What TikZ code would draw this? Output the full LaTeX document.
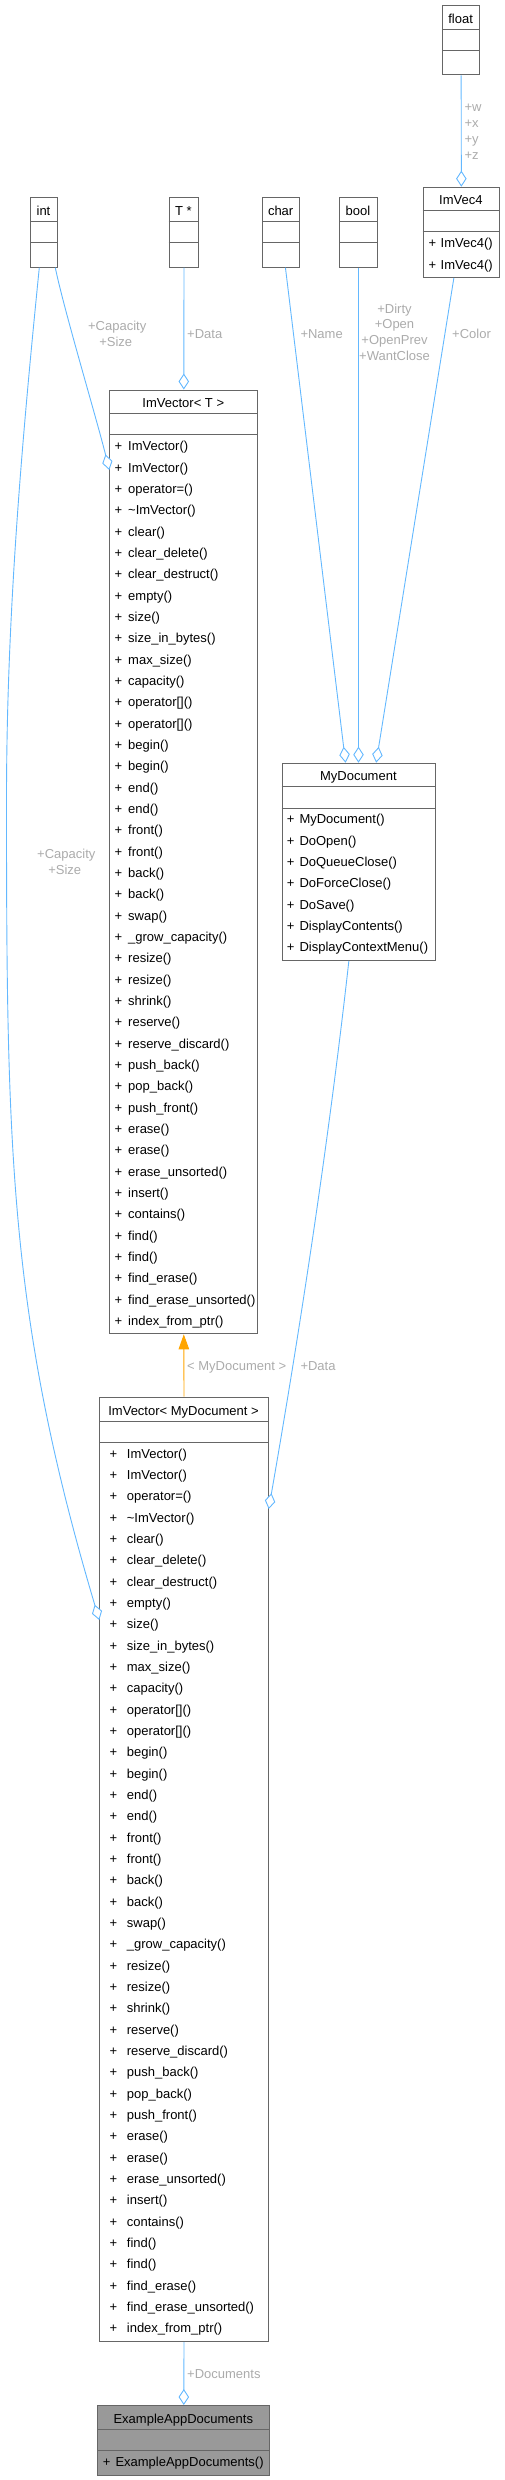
\documentclass[tikz,border=0pt]{standalone}
\usepackage{fontspec}
\setmainfont{Liberation Sans}
\usetikzlibrary{arrows.meta}
\definecolor{edgeblue}{HTML}{63B8FF}
\definecolor{inhorange}{HTML}{FFA500}
\definecolor{lblgrey}{HTML}{ABABAB}
\definecolor{boxgrey}{HTML}{666666}
\definecolor{fillgrey}{HTML}{999999}
\tikzset{
  classbox/.style={draw=boxgrey,line width=1pt,inner sep=0pt,fill=white},
  boxline/.style={draw=boxgrey,line width=1pt},
  txt/.style={inner sep=0pt,font=\fontsize{13}{15.7}\selectfont},
  lbl/.style={txt,text=lblgrey},
  agg/.style={draw=edgeblue,line width=0.9pt,-{Diamond[length=16pt,width=10.5pt,fill=white]}},
  inh/.style={draw=inhorange,line width=0.9pt,-{Triangle[length=15pt,width=10.5pt,fill=inhorange]}},
}
% #1 style, #2 name, #3 left, #4 right, #5 top, #6 line1, #7 line2, #8 bottom, #9 title
\newcommand{\umlclass}[9][]{%
  \node[classbox,#1,anchor=north west,minimum width={#4pt-#3pt},minimum height={#8pt-#5pt}] (#2) at (#3,#5) {};
  \draw[boxline] (#3,#6) -- (#4,#6);
  \draw[boxline] (#3,#7) -- (#4,#7);
  \node[txt,anchor=base] (#2-title) at ({(#3+#4)/2},{(#5+#6)/2+6}) {#9};
}
% #1 name, #2 plus x, #3 text x, #4 first row centre y, #5 list
\newcommand{\umlrows}[5]{%
  \foreach \rtext [count=\ri from 0] in {#5} {
    \pgfmathsetmacro{\ry}{#4+\ri*21.333+5}
    \node[txt,anchor=base west] (#1-p\ri) at (#2,\ry) {+};
    \node[txt,anchor=base west] (#1-r\ri) at (#3,\ry) {\rtext};
  }
}
\begin{document}
\begin{tikzpicture}[x=1pt,y=-1pt]
\useasboundingbox (0,0) rectangle (504,2480);

% classes
\umlclass{float}{442}{479.3}{5}{29.3}{50.7}{74.3}{float}
\umlclass{int}{30}{57}{197.3}{221.3}{242.5}{266.7}{int}
\umlclass{tptr}{168.7}{198.3}{197.3}{221.3}{242.5}{266.7}{T *}
\umlclass{char}{262}{299.3}{197.3}{221.3}{242.5}{266.7}{char}
\umlclass{bool}{339.3}{376.7}{197.3}{221.3}{242.5}{266.7}{bool}
\umlclass{imvec4}{422.7}{499}{186.7}{210.5}{231.7}{277}{ImVec4}
\umlrows{imvec4}{428.3}{440.5}{242.7}{ImVec4(),ImVec4()}

\umlclass{vt}{109.3}{257.3}{389.5}{413.3}{434.5}{1333.3}{ImVector< T >}
\umlrows{vt}{114.3}{128}{445.7}{ImVector(),ImVector(),operator=(),\textasciitilde{}ImVector(),clear(),clear\_delete(),clear\_destruct(),empty(),size(),size\_in\_bytes(),max\_size(),capacity(),operator[](),operator[](),begin(),begin(),end(),end(),front(),front(),back(),back(),swap(),\_grow\_capacity(),resize(),resize(),shrink(),reserve(),reserve\_discard(),push\_back(),pop\_back(),push\_front(),erase(),erase(),erase\_unsorted(),insert(),contains(),find(),find(),find\_erase(),find\_erase\_unsorted(),index\_from\_ptr()}

\umlclass{mydoc}{281.7}{435}{762.7}{786.7}{808}{960}{MyDocument}
\umlrows{mydoc}{286.6}{299.3}{818.7}{MyDocument(),DoOpen(),DoQueueClose(),DoForceClose(),DoSave(),DisplayContents(),DisplayContextMenu()}

\umlclass{vmd}{99.3}{267.7}{1396.7}{1421.7}{1442.7}{2341}{ImVector< MyDocument >}
\umlrows{vmd}{109.3}{126.7}{1453.3}{ImVector(),ImVector(),operator=(),\textasciitilde{}ImVector(),clear(),clear\_delete(),clear\_destruct(),empty(),size(),size\_in\_bytes(),max\_size(),capacity(),operator[](),operator[](),begin(),begin(),end(),end(),front(),front(),back(),back(),swap(),\_grow\_capacity(),resize(),resize(),shrink(),reserve(),reserve\_discard(),push\_back(),pop\_back(),push\_front(),erase(),erase(),erase\_unsorted(),insert(),contains(),find(),find(),find\_erase(),find\_erase\_unsorted(),index\_from\_ptr()}

\umlclass[fill=fillgrey]{ead}{97.3}{269.3}{2405}{2429}{2450.3}{2475}{ExampleAppDocuments}
\umlrows{ead}{102.6}{115.3}{2461.3}{ExampleAppDocuments()}

% connectors
\draw[agg] (float.south) -- (imvec4.north);
\draw[agg] (tptr.south) -- (vt.north);
\draw[agg] ([xshift=-2.7pt]int.south east) .. controls (64,310) and (97,420) .. (vt.west |- 0,470);
\draw[agg] ([xshift=9.3pt]int.south west) .. controls (21.3,446.7) and (6.5,620) .. (6.5,800)
  .. controls (6.5,1150) and (9.3,1318) .. (vmd.west |- 0,1620);
\draw[agg] ([xshift=4.3pt]char.south) -- ([xshift=-13.3pt]mydoc.north);
\draw[agg] (bool.south) -- (bool.south |- mydoc.north);
\draw[agg] ([xshift=-7.5pt]imvec4.south) -- ([xshift=17.3pt]mydoc.north);
\draw[agg] ([xshift=-10pt]mydoc.south) .. controls (328.9,1140) and (300.1,1329) .. (vmd.east |- 0,1509);
\draw[inh] (vmd.north) -- (vt.south);
\draw[agg] (vmd.south) -- (ead.north);

% labels
\node[lbl,anchor=base west] (lw) at (464.3,111.7) {+w};
\node[lbl,anchor=base west] (lx) at (464.3,127.7) {+x};
\node[lbl,anchor=base west] (ly) at (464.3,143.7) {+y};
\node[lbl,anchor=base west] (lz) at (464.3,159.7) {+z};

\node[lbl,anchor=base] (lcap1) at (117.2,330.3) {+Capacity};
\node[lbl,anchor=base] (lsize1) at (115.7,346.3) {+Size};
\node[lbl,anchor=base west] (ldata1) at (187,338.3) {+Data};
\node[lbl,anchor=base west] (lname) at (300.3,338.3) {+Name};
\node[lbl,anchor=base] (ldirty) at (394.5,313.3) {+Dirty};
\node[lbl,anchor=base] (lopen) at (394.5,329) {+Open};
\node[lbl,anchor=base] (lopenprev) at (394.5,344.7) {+OpenPrev};
\node[lbl,anchor=base] (lwantclose) at (394.5,360.3) {+WantClose};
\node[lbl,anchor=base west] (lcolor) at (452,338.3) {+Color};

\node[lbl,anchor=base] (lcap2) at (66.3,858.3) {+Capacity};
\node[lbl,anchor=base] (lsize2) at (64.7,874.3) {+Size};

\node[lbl,anchor=base west] (ltmpl) at (187,1370.7) {< MyDocument >};
\node[lbl,anchor=base west] (ldata2) at (300.3,1370.7) {+Data};
\node[lbl,anchor=base west] (ldocs) at (187,2378.3) {+Documents};
\end{tikzpicture}
\end{document}
